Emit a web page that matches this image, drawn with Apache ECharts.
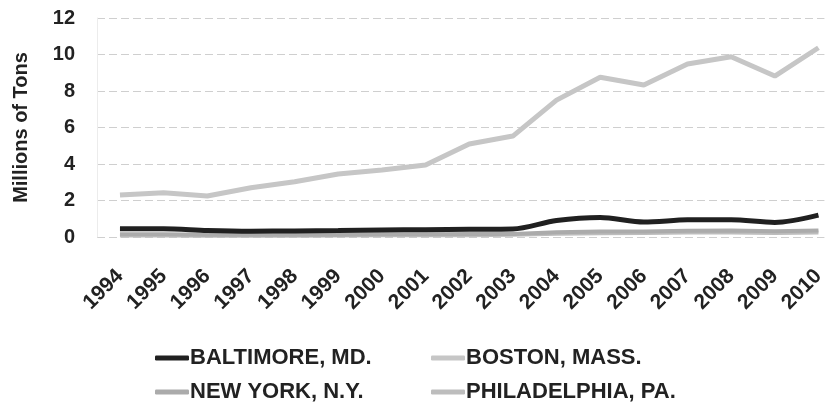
<!DOCTYPE html>
<html><head><meta charset="utf-8">
<script src="https://cdn.jsdelivr.net/npm/echarts@6/dist/echarts.min.js"></script>
<style>html,body{margin:0;padding:0;background:#fff}#c{width:828px;height:409px}</style>
</head><body><div id="c"></div>
<script>
const years = [1994,1995,1996,1997,1998,1999,2000,2001,2002,2003,2004,2005,2006,2007,2008,2009,2010];
const baltimore = [0.45,0.45,0.36,0.32,0.33,0.35,0.38,0.40,0.42,0.44,0.90,1.07,0.82,0.94,0.95,0.80,1.20];
const boston = [2.30,2.43,2.25,2.70,3.03,3.45,3.67,3.95,5.10,5.53,7.50,8.75,8.33,9.48,9.88,8.82,10.37];
const newYork = [0.15,0.15,0.12,0.12,0.12,0.13,0.15,0.15,0.16,0.17,0.26,0.30,0.30,0.34,0.35,0.31,0.36];
const philadelphia = [0.08,0.08,0.07,0.07,0.07,0.08,0.10,0.10,0.10,0.12,0.18,0.20,0.22,0.25,0.25,0.22,0.25];
const yTicks = [0,2,4,6,8,10,12];
const names = ['BALTIMORE, MD.','BOSTON, MASS.','NEW YORK, N.Y.','PHILADELPHIA, PA.'];
const colors = ['#202020','#c6c6c6','#ababab','#bdbdbd'];

const pair = arr => years.map((y,i)=>[y,arr[i]]);
const font = 'Liberation Sans, Arial, sans-serif';
const chart = echarts.init(document.getElementById('c'), null, {renderer:'canvas'});
const legendCommon = {orient:'vertical',top:342,itemGap:12,itemWidth:34,itemHeight:5,icon:'roundRect',
  textStyle:{fontSize:22,fontWeight:'bold',color:'#222',fontFamily:font,padding:[0,0,0,-4]}};
chart.setOption({
  animation:false,
  grid:{left:97,right:2,top:18,height:219},
  xAxis:{type:'value',min:1993.474,max:2010.137,
    axisLine:{show:false},axisTick:{show:false},splitLine:{show:false},
    axisLabel:{customValues:years,formatter:v=>String(Math.round(v)),rotate:45,margin:36,fontSize:21,fontWeight:'bold',color:'#222',fontFamily:font}
  },
  yAxis:{type:'value',min:yTicks[0],max:yTicks[yTicks.length-1],interval:2,
    name:'Millions of Tons',nameLocation:'middle',nameGap:66,nameRotate:90,
    nameTextStyle:{fontSize:20,fontWeight:'bold',color:'#222',fontFamily:font},
    axisLine:{show:true,lineStyle:{color:'#ececec',width:1}},axisTick:{show:false},
    axisLabel:{margin:22,fontSize:20,fontWeight:'bold',color:'#222',fontFamily:font},
    splitLine:{show:true,lineStyle:{color:'#cfcfcf',type:[8,4],width:1}}
  },
  legend:[
    Object.assign({data:[names[0],names[2]],left:150},legendCommon),
    Object.assign({data:[names[1],names[3]],left:426},legendCommon)
  ],
  series:[
    {name:names[3],type:'line',data:pair(philadelphia),symbol:'none',lineStyle:{color:colors[3],width:4},itemStyle:{color:colors[3]},z:2},
    {name:names[2],type:'line',data:pair(newYork),symbol:'none',lineStyle:{color:colors[2],width:4},itemStyle:{color:colors[2]},z:3},
    {name:names[1],type:'line',data:pair(boston),symbol:'none',lineStyle:{color:colors[1],width:5},itemStyle:{color:colors[1]},z:4},
    {name:names[0],type:'line',data:pair(baltimore),symbol:'none',smooth:0.3,lineStyle:{color:colors[0],width:5},itemStyle:{color:colors[0]},z:5}
  ]
});
</script></body></html>
